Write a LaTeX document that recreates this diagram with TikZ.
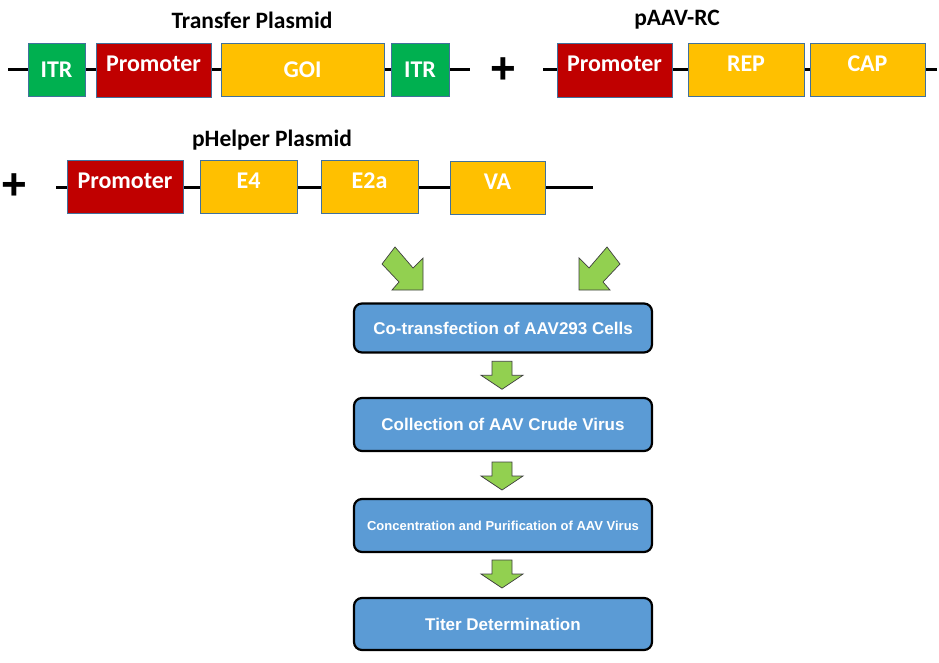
\documentclass[tikz,border=0pt]{standalone}
\usepackage{fontspec}
\setmainfont{Carlito}
\newfontfamily\arialf{Liberation Sans}
\usetikzlibrary{calc}
\definecolor{genered}{HTML}{C00000}
\definecolor{geneyellow}{HTML}{FFC000}
\definecolor{genegreen}{HTML}{00B050}
\definecolor{geneedge}{HTML}{41719C}
\definecolor{flowblue}{HTML}{5B9BD5}
\definecolor{arrowgreen}{HTML}{92D050}
\definecolor{arrowedge}{HTML}{3F3F3F}
\newcommand\liftup[1]{\raisebox{6pt}[\height][\depth]{#1}}
\begin{document}
\begin{tikzpicture}[x=1pt,y=-1pt,
  gene/.style={draw=geneedge, line width=0.8pt, inner sep=0pt, text=white,
    font=\bfseries\fontsize{24}{28}\selectfont},
  backbone/.style={draw=black, line width=3pt},
  ptitle/.style={inner sep=0pt, text=black, font=\bfseries\fontsize{23.5}{27}\selectfont},
  plus/.style={inner sep=0pt, font=\arialf\bfseries\fontsize{44}{48}\selectfont},
  flow/.style={draw=black, line width=2.2pt, rounded corners=8pt, fill=flowblue,
    minimum width=298pt, text=white, inner sep=0pt,
    font=\arialf\bfseries\fontsize{17}{20}\selectfont},
  garrow/.style={fill=arrowgreen, draw=arrowedge, line width=0.7pt, line join=miter},
  downarr/.pic={\path[garrow] (-10,-14) -- (10,-14) -- (10,0) -- (21,0) -- (0,14) -- (-21,0) -- (-10,0) -- cycle;}
]
\useasboundingbox (0,0) rectangle (939,663);

% backbones
\coordinate (a1) at (8,70);   \coordinate (a2) at (470,70);
\coordinate (b1) at (543,70); \coordinate (b2) at (937,70);
\coordinate (c1) at (56,188); \coordinate (c2) at (593,188);
\draw[backbone] (a1) -- (a2);
\draw[backbone] (b1) -- (b2);
\draw[backbone] (c1) -- (c2);

% Transfer plasmid
\node[ptitle] (t1) at (252,20) {Transfer Plasmid};
\node[gene, fill=genegreen, minimum width=57pt, minimum height=53pt] (itr1) at (56.5,69.5) {ITR};
\node[gene, fill=genered, minimum width=115pt, minimum height=54pt] (pr1) at (153.5,70) {\liftup{Promoter}};
\node[gene, fill=geneyellow, minimum width=163pt, minimum height=53pt] (goi) at (302.5,69.5) {GOI};
\node[gene, fill=genegreen, minimum width=58pt, minimum height=53pt] (itr2) at (420,69.5) {ITR};

\node[plus] (plus1) at (503,71) {+};

% pAAV-RC
\node[ptitle] (t2) at (677,20) {pAAV-RC};
\node[gene, fill=genered, minimum width=115pt, minimum height=54pt] (pr2) at (614.5,70) {\liftup{Promoter}};
\node[gene, fill=geneyellow, minimum width=116pt, minimum height=53pt] (rep) at (746,69.5) {\liftup{REP}};
\node[gene, fill=geneyellow, minimum width=115pt, minimum height=53pt] (cap) at (867.5,69.5) {\liftup{CAP}};

% pHelper
\node[plus] (plus2) at (14,187) {+};
\node[ptitle] (t3) at (272,140) {pHelper Plasmid};
\node[gene, fill=genered, minimum width=116pt, minimum height=53pt] (pr3) at (125,186.5) {\liftup{Promoter}};
\node[gene, fill=geneyellow, minimum width=97pt, minimum height=53pt] (e4) at (248.5,186.5) {\liftup{E4}};
\node[gene, fill=geneyellow, minimum width=97pt, minimum height=53pt] (e2a) at (369.5,186.5) {\liftup{E2a}};
\node[gene, fill=geneyellow, minimum width=95pt, minimum height=53pt] (va) at (497.5,187.5) {\liftup{VA}};

% diagonal arrows
\path[garrow] (395,247) -- (382,264) -- (399,282) -- (392,290) -- (423,290) -- (423,258) -- (413,268) -- cycle;
\path[garrow] (607,247) -- (620,264) -- (603,282) -- (610,290) -- (579,290) -- (579,258) -- (589,268) -- cycle;

% flow
\node[flow, minimum height=49pt] (s1) at (503,328) {Co-transfection of AAV293 Cells};
\node[flow, minimum height=53pt] (s2) at (503,424.5) {Collection of AAV Crude Virus};
\node[flow, minimum height=53pt, font=\arialf\bfseries\fontsize{13}{15}\selectfont] (s3) at (503,525.5) {Concentration and Purification of AAV Virus};
\node[flow, minimum height=52pt] (s4) at (503,624) {Titer Determination};

\pic at ($(s1.south)!0.5!(s2.north)+(-1,0)$) {downarr};
\pic at ($(s2.south)!0.5!(s3.north)+(-1,1)$) {downarr};
\pic at ($(s3.south)!0.5!(s4.north)+(-1,-1)$) {downarr};
\end{tikzpicture}
\end{document}
